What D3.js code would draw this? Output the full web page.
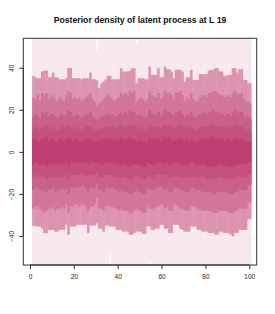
<!DOCTYPE html>
<html><head><meta charset="utf-8">
<script src="https://cdnjs.cloudflare.com/ajax/libs/d3/7.8.5/d3.min.js"></script>
<style>html,body{margin:0;padding:0;background:#fff;}svg{display:block;}</style>
</head><body>
<script>
const title = "Posterior density of latent process at L 19";
const xTicks = [0,20,40,60,80,100];
const yTicks = [-40,-20,0,20,40];
const steps = d3.range(1,101);
// outermost (lightest) band limits
const outerHi = Array(100).fill(60);
outerHi[29] = 48; outerHi[47] = 52;
const outerLo = Array(100).fill(-60);
outerLo[35] = -48; outerLo[53] = -52.5;
// band 2 (light pink)
const hi1 = [36.1,35.5,35,35,38.2,38.6,38.6,35.5,35.5,37.7, 35.5,35.5,34.5,34.5,34.5,35,39.8,39.8,35,35, 35,35,34.5,35,35,35,37.7,34.5,34.5,34,
 30.2,32.6,33.4,34.5,36.1,36.1,34.5,34.5,34.5,34.5, 39.8,38.2,38.2,38.2,38.6,39.8,39.8,32.6,35,35, 35,34.5,34.5,40.5,36.6,36.6,36.6,39.8,35.5,35.5,
 40.5,39.3,39.3,38.2,35,39,39,39,38.2,33.4, 35.5,35.5,39,34.2,34.2,34.2,37,37,37,37, 38.6,39,39,39.8,39.8,38.2,38.2,36.1,36.1,36.6, 36.6,39.8,39.8,37.7,39.3,39.3,34.2,34.2,32.6,32.6];
const lo1 = [-35.3,-35.3,-35.5,-35.5,-36.5,-38.6,-38.6,-37.1,-37.1,-37.1, -37.9,-37.9,-37.1,-37.1,-37.1,-34.7,-39.4,-35.5,-35.5,-35.5, -34.7,-34.7,-34.7,-34.7,-34.7,-38.6,-35,-35,-35,-34,
 -36.5,-36.5,-37.9,-35,-35,-35.5,-35.5,-35.5,-37.1,-37.1, -37.1,-37.9,-37.9,-37.9,-39.4,-39.4,-38.6,-37.9,-37.9,-37.9, -39,-39,-35.5,-35.5,-37.1,-37.1,-36.5,-36.5,-34.7,-34.7,
 -36.5,-36.5,-38.6,-38.6,-34.7,-34.7,-34.7,-36.5,-37.1,-37.9, -37.9,-37.9,-35.5,-35.5,-35.5,-37.1,-37.1,-37.9,-37.9,-37.9, -38.6,-38.6,-38.6,-39.4,-39.4,-37.9,-37.9,-38.6,-38.6,-38.6, -39.4,-40.2,-38.6,-38.6,-37.1,-37.1,-37.1,-37.1,-32,-32];
// band 3
const hi2 = [26,25,27,24,28,27,28,25,26,27, 25,24,26,25,24,27,29,28,25,26, 25,26,24,25,26,27,28,25,24,22, 23,24,25,26,27,26,25,24,25,26, 28,27,28,27,29,28,29,24,25,26, 25,24,25,29,27,26,26,28,25,26, 29,28,28,27,25,28,28,29,27,24, 26,25,28,25,24,24,26,27,27,26, 28,28,29,29,28,27,27,26,26,27, 26,28,29,27,28,28,25,24,24,23];
const lo2 = [-27,-26,-26,-27,-28,-29,-28,-27,-27,-26, -28,-27,-27,-26,-27,-25,-29,-26,-26,-25, -25,-26,-25,-25,-26,-28,-26,-26,-25,-22, -27,-27,-28,-26,-25,-26,-26,-27,-27,-28, -27,-28,-28,-28,-29,-29,-28,-27,-28,-28, -29,-29,-26,-27,-27,-27,-26,-26,-25,-25, -27,-26,-28,-28,-25,-25,-26,-27,-27,-28, -28,-28,-26,-26,-26,-27,-27,-28,-28,-28, -28,-28,-29,-29,-29,-28,-28,-28,-28,-29, -29,-29,-28,-28,-27,-27,-27,-27,-24,-24];
// band 4
const hi3 = [17,18,17,16,19,18,19,17,18,18, 17,16,17,18,17,18,20,19,17,17, 18,17,16,17,18,18,19,17,16,15, 16,17,17,18,18,17,18,17,17,18, 19,18,19,18,20,19,19,17,18,17, 17,16,17,20,18,18,17,19,17,18, 20,19,19,18,17,19,19,20,18,16, 18,17,19,17,16,17,18,18,19,18, 19,19,20,19,19,18,18,17,18,18, 17,19,20,18,19,19,17,16,17,16];
const lo3 = [-18,-17,-17,-18,-18,-19,-19,-18,-18,-17, -19,-18,-18,-17,-18,-17,-20,-17,-17,-17, -16,-17,-16,-16,-17,-19,-17,-17,-17,-15, -18,-18,-19,-17,-17,-17,-17,-18,-18,-19, -18,-19,-19,-19,-20,-20,-19,-18,-19,-19, -20,-20,-17,-18,-18,-18,-17,-17,-16,-17, -18,-17,-19,-19,-17,-17,-17,-18,-18,-19, -19,-19,-17,-17,-18,-18,-18,-19,-19,-19, -19,-19,-20,-20,-19,-19,-19,-19,-19,-20, -20,-20,-19,-19,-18,-18,-18,-18,-16,-16];
// band 5
const hi4 = [11,12,11,10,12,12,13,11,12,11, 11,10,11,12,11,12,13,12,11,11, 12,11,10,11,12,12,12,11,10,10, 11,11,11,12,12,11,12,11,11,12, 13,12,12,12,13,12,13,11,12,11, 11,10,11,13,12,12,11,12,11,12, 13,12,13,12,11,12,12,13,12,11, 12,11,12,11,10,11,12,12,12,12, 12,13,13,12,12,12,12,11,12,12, 11,12,13,12,12,12,11,10,11,10];
const lo4 = [-12,-11,-11,-12,-12,-12,-13,-12,-12,-11, -12,-12,-12,-11,-12,-11,-13,-11,-11,-11, -11,-11,-10,-11,-11,-12,-11,-11,-11,-10, -12,-12,-12,-11,-11,-11,-11,-12,-12,-12, -12,-12,-12,-13,-13,-13,-12,-12,-12,-12, -13,-13,-11,-12,-12,-12,-11,-11,-11,-11, -12,-11,-12,-12,-11,-11,-11,-12,-12,-12, -12,-12,-11,-11,-12,-12,-12,-12,-12,-13, -13,-12,-13,-13,-12,-12,-12,-13,-12,-13, -13,-13,-12,-12,-12,-12,-12,-12,-11,-11];
// centre band
const hi5 = [6,6,5,5,6,6,7,5,6,6, 5,5,6,6,5,6,7,6,5,6, 6,5,5,5,6,6,6,5,5,5, 5,6,5,6,6,6,6,5,6,6, 7,6,6,6,7,6,6,5,6,5, 5,5,5,7,6,6,6,6,5,6, 7,6,7,6,5,6,6,7,6,5, 6,5,6,5,5,5,6,6,6,6, 6,7,7,6,6,6,6,5,6,6, 5,6,7,6,6,6,5,5,5,5];
const lo5 = [-6,-5,-5,-6,-6,-6,-7,-6,-6,-5, -6,-6,-6,-5,-6,-5,-7,-5,-5,-5, -5,-5,-5,-5,-5,-6,-5,-5,-5,-5, -6,-6,-6,-5,-5,-5,-5,-6,-6,-6, -6,-6,-6,-7,-7,-6,-6,-6,-6,-6, -7,-7,-5,-6,-6,-6,-5,-5,-5,-5, -6,-5,-6,-6,-5,-5,-5,-6,-6,-6, -6,-6,-5,-5,-6,-6,-6,-6,-6,-7, -7,-6,-7,-7,-6,-6,-6,-7,-6,-7, -7,-7,-6,-6,-6,-6,-6,-6,-5,-5];
const bandColors = ["#f7e8ee","#db93af","#d1769a","#c9608a","#c4507e","#be4073"];

const W = 275, H = 314;
const plot = {left: 23.3, right: 256.7, top: 38.3, bottom: 265};
const x = d3.scaleLinear().domain([-3.05, 103.4]).range([plot.left, plot.right]);
const y = d3.scaleLinear().domain([-53.8, 54.0]).range([plot.bottom, plot.top]);

const svg = d3.select("body").append("svg").attr("width", W).attr("height", H);
svg.append("defs").append("clipPath").attr("id","clip")
  .append("rect").attr("x",plot.left).attr("y",plot.top)
  .attr("width",plot.right-plot.left).attr("height",plot.bottom-plot.top);

const bands = [[outerLo,outerHi],[lo1,hi1],[lo2,hi2],[lo3,hi3],[lo4,hi4],[lo5,hi5]];
const g = svg.append("g").attr("clip-path","url(#clip)");
bands.forEach(([lo,hi],b) => {
  g.append("g").selectAll("rect").data(steps).join("rect")
    .attr("x", d => x(d))
    .attr("width", d => x(d + 1) - x(d) + (d === 100 ? 0 : 0.35))
    .attr("y", (d,i) => y(hi[i]))
    .attr("height", (d,i) => y(lo[i]) - y(hi[i]))
    .attr("fill", bandColors[b]);
});

// box
svg.append("rect").attr("x",plot.left).attr("y",plot.top)
  .attr("width",plot.right-plot.left).attr("height",plot.bottom-plot.top)
  .attr("fill","none").attr("stroke","#333").attr("stroke-width",1);

const font = "'Liberation Sans', Arial, Helvetica, sans-serif";
const xa = svg.append("g").attr("transform",`translate(0,${plot.bottom})`)
  .call(d3.axisBottom(x).tickValues(xTicks).tickSize(4).tickPadding(5).tickFormat(d3.format("d")));
xa.select(".domain").remove();
xa.append("line").attr("x1",x(0)).attr("x2",x(100)).attr("stroke","#333");
xa.selectAll("line").attr("stroke","#333");
xa.selectAll("text").attr("font-family",font).attr("font-size",6.5).attr("fill","#222");

const ya = svg.append("g").attr("transform",`translate(${plot.left},0)`)
  .call(d3.axisLeft(y).tickValues(yTicks).tickSize(4).tickFormat(d3.format("d")));
ya.select(".domain").remove();
ya.append("line").attr("y1",y(-40)).attr("y2",y(40)).attr("stroke","#333");
ya.selectAll("line").attr("stroke","#333");
ya.selectAll(".tick text").attr("font-family",font).attr("font-size",6.5).attr("fill","#222")
  .attr("text-anchor","middle").attr("dy",null).attr("x",null).attr("y",null)
  .attr("transform", "translate(-9.5,0) rotate(-90)");

svg.append("text").attr("x", (plot.left+plot.right)/2).attr("y", 23)
  .attr("text-anchor","middle").attr("font-family",font).attr("font-weight","bold")
  .attr("font-size",8.7).attr("fill","#111").text(title);
</script>
</body></html>
